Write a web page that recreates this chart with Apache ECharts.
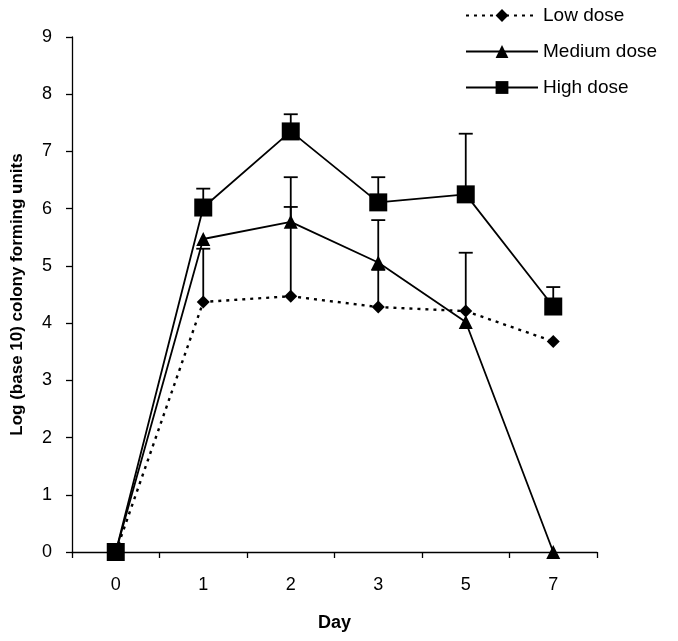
<!DOCTYPE html>
<html>
<head>
<meta charset="utf-8">
<script src="https://cdn.jsdelivr.net/npm/echarts@6/dist/echarts.min.js"></script>
<style>
html,body{margin:0;padding:0;background:#fff;}
#chart{width:678px;height:641px;}
</style>
</head>
<body>
<div id="chart"></div>
<script>
const days = ['0', '1', '2', '3', '5', '7'];
const lowDose = [0, 4.37, 4.47, 4.28, 4.21, 3.68];
const mediumDose = [0, 5.47, 5.77, 5.06, 4.02, 0];
const highDose = [0, 6.02, 7.35, 6.11, 6.25, 4.29];
const lowErrTop = [null, 5.30, 6.03, 4.93, 5.23, null];
const mediumErrTop = [null, null, 6.55, 5.80, null, null];
const highErrTop = [null, 6.35, 7.65, 6.55, 7.31, 4.63];
const yTicks = [0, 1, 2, 3, 4, 5, 6, 7, 8, 9];

const FONT = "'Liberation Sans', Arial, Helvetica, sans-serif";

function errData(vals, tops) {
  const out = [];
  vals.forEach((v, i) => { if (tops[i] != null) out.push([i, v, tops[i]]); });
  return out;
}

function errSeries(name, vals, tops) {
  return {
    type: 'custom',
    name: name,
    z: 1,
    silent: true,
    data: errData(vals, tops),
    renderItem: function (params, api) {
      const base = api.coord([api.value(0), api.value(1)]);
      const top = api.coord([api.value(0), api.value(2)]);
      const hw = 7;
      return {
        type: 'group',
        children: [
          { type: 'line', shape: { x1: base[0], y1: base[1], x2: top[0], y2: top[1] }, style: { stroke: '#000', lineWidth: 1.8 } },
          { type: 'line', shape: { x1: top[0] - hw, y1: top[1], x2: top[0] + hw, y2: top[1] }, style: { stroke: '#000', lineWidth: 1.8 } }
        ]
      };
    }
  };
}

const chart = echarts.init(document.getElementById('chart'), null, { renderer: 'canvas' });
chart.setOption({
  backgroundColor: '#fff',
  animation: false,
  textStyle: { fontFamily: FONT },
  legend: {
    data: ['Low dose', 'Medium dose', 'High dose'],
    orient: 'vertical',
    left: 460,
    top: 1,
    itemWidth: 72,
    itemHeight: 16,
    itemGap: 17,
    textStyle: { fontFamily: FONT, fontSize: 19, color: '#000', padding: [0, 0, 0, 0] }
  },
  grid: { left: 72, right: 81, top: 37, bottom: 89 },
  xAxis: {
    type: 'category',
    data: days,
    boundaryGap: true,
    name: 'Day',
    nameLocation: 'middle',
    nameGap: 62,
    nameTextStyle: { fontFamily: FONT, fontSize: 18, fontWeight: 'bold', color: '#000' },
    axisLine: { lineStyle: { color: '#000', width: 1.3 } },
    axisTick: { show: true, length: 6, lineStyle: { color: '#000', width: 1.3 } },
    axisLabel: { fontFamily: FONT, fontSize: 18, color: '#000', margin: 24 },
    splitLine: { show: false }
  },
  yAxis: {
    type: 'value',
    min: yTicks[0],
    max: yTicks[yTicks.length - 1],
    interval: 1,
    name: 'Log (base 10) colony forming units',
    nameLocation: 'middle',
    nameGap: 46,
    nameRotate: 90,
    nameTextStyle: { fontFamily: FONT, fontSize: 17, fontWeight: 'bold', color: '#000' },
    axisLine: { show: true, lineStyle: { color: '#000', width: 1.3 } },
    axisTick: { show: true, length: 6, lineStyle: { color: '#000', width: 1.3 } },
    axisLabel: { fontFamily: FONT, fontSize: 18, color: '#000', margin: 20 },
    splitLine: { show: false }
  },
  series: [
    errSeries('lowErr', lowDose, lowErrTop),
    errSeries('medErr', mediumDose, mediumErrTop),
    errSeries('highErr', highDose, highErrTop),
    {
      name: 'Low dose', type: 'line', data: lowDose, z: 3,
      symbol: 'diamond', symbolSize: 13,
      lineStyle: { color: '#000', width: 2.4, type: [3, 5] },
      itemStyle: { color: '#000' }
    },
    {
      name: 'Medium dose', type: 'line', data: mediumDose, z: 3,
      symbol: 'triangle', symbolSize: 14,
      lineStyle: { color: '#000', width: 1.8 },
      itemStyle: { color: '#000' }
    },
    {
      name: 'High dose', type: 'line', data: highDose, z: 3,
      symbol: 'rect', symbolSize: 18,
      lineStyle: { color: '#000', width: 1.8 },
      itemStyle: { color: '#000' }
    }
  ]
});
</script>
</body>
</html>
